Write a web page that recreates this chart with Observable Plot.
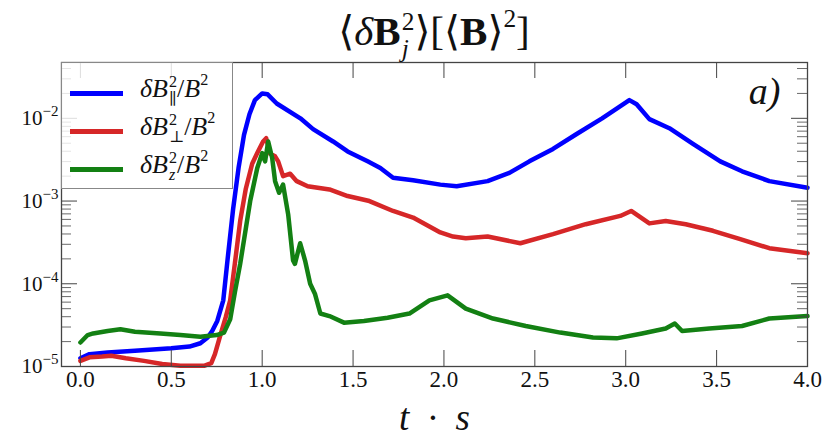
<!DOCTYPE html>
<html>
<head>
<meta charset="utf-8">
<script src="https://cdn.jsdelivr.net/npm/d3@7"></script>
<script src="https://cdn.jsdelivr.net/npm/@observablehq/plot@0.6"></script>
<style>
  body { margin: 0; background: #fff; }
  #wrap { position: relative; width: 831px; height: 446px; font-family: "Liberation Serif", "DejaVu Serif", serif; color: #111; }
  #wrap svg { position: absolute; left: 0; top: 0; }
  #title { position: absolute; left: 0; width: 868px; top: 8px; text-align: center; font-size: 41px; line-height: 1.15; white-space: nowrap; }
  .ss { display: inline-block; vertical-align: -0.45em; font-size: 0.62em; line-height: 1.05; text-align: left; margin-left: 1px; }
  .ss > span { display: block; }
  .sup { font-size: 0.62em; vertical-align: 0.7em; line-height: 0; }
  #legend { position: absolute; left: 61px; top: 62px; width: 172px; height: 127px; border: 1px solid #888; background: rgba(255,255,255,0.82); box-sizing: border-box; }
  .sw { position: absolute; left: 8px; width: 53px; height: 5px; }
  .lab { position: absolute; left: 78px; font-size: 26px; font-style: italic; line-height: 1; white-space: nowrap; }
  .lab .up { font-style: normal; }
</style>
</head>
<body>
<div id="wrap">
  <div id="title">⟨<i>δ</i><b>B</b><span class="ss"><span>2</span><span><i>j</i></span></span>⟩[⟨<b>B</b>⟩<span class="sup">2</span>]</div>
</div>
<script>
// ---- data ----
const seriesNames = ["par", "perp", "z"];
const seriesColors = ["#0000ff", "#d62728", "#138013"];

const tPar = [0, 0.05, 0.15, 0.3, 0.5, 0.6, 0.66, 0.70, 0.725, 0.753, 0.786, 0.81, 0.84, 0.87, 0.90, 0.93, 0.96, 1.0, 1.03, 1.08, 1.21, 1.28, 1.39, 1.47, 1.58, 1.65, 1.72, 1.83, 1.98, 2.07, 2.24, 2.36, 2.47, 2.60, 2.73, 2.87, 3.02, 3.06, 3.13, 3.24, 3.37, 3.52, 3.64, 3.79, 4.0];
const vPar = [1.26e-5, 1.41e-5, 1.48e-5, 1.55e-5, 1.66e-5, 1.74e-5, 1.91e-5, 2.24e-5, 2.69e-5, 3.55e-5, 6.31e-5, 2.0e-4, 7.94e-4, 2.51e-3, 6.31e-3, 1.12e-2, 1.66e-2, 2.0e-2, 1.95e-2, 1.51e-2, 1.0e-2, 7.41e-3, 5.25e-3, 3.98e-3, 3.02e-3, 2.51e-3, 1.91e-3, 1.78e-3, 1.58e-3, 1.51e-3, 1.74e-3, 2.19e-3, 3.02e-3, 4.27e-3, 6.46e-3, 1.0e-2, 1.66e-2, 1.48e-2, 9.77e-3, 7.59e-3, 4.90e-3, 3.02e-3, 2.29e-3, 1.74e-3, 1.45e-3];

const tPerp = [0, 0.05, 0.12, 0.17, 0.25, 0.35, 0.45, 0.55, 0.68, 0.72, 0.74, 0.77, 0.80, 0.824, 0.85, 0.879, 0.91, 0.945, 0.973, 1.005, 1.022, 1.044, 1.071, 1.088, 1.115, 1.154, 1.19, 1.25, 1.37, 1.47, 1.59, 1.72, 1.83, 1.98, 2.05, 2.12, 2.24, 2.42, 2.60, 2.78, 2.97, 3.03, 3.07, 3.13, 3.22, 3.33, 3.48, 3.63, 3.79, 4.0];
const vPerp = [1.17e-5, 1.29e-5, 1.32e-5, 1.35e-5, 1.26e-5, 1.17e-5, 1.07e-5, 1.02e-5, 1.02e-5, 1.10e-5, 1.41e-5, 2.40e-5, 3.98e-5, 6.31e-5, 1.78e-4, 5.75e-4, 1.41e-3, 2.82e-3, 3.80e-3, 5.25e-3, 5.75e-3, 3.72e-3, 3.47e-3, 3.02e-3, 2.0e-3, 2.14e-3, 1.74e-3, 1.51e-3, 1.38e-3, 1.15e-3, 1.0e-3, 7.59e-4, 6.31e-4, 4.17e-4, 3.72e-4, 3.55e-4, 3.72e-4, 3.09e-4, 3.98e-4, 5.25e-4, 6.61e-4, 7.59e-4, 6.61e-4, 5.37e-4, 5.75e-4, 5.25e-4, 4.37e-4, 3.47e-4, 2.69e-4, 2.34e-4];

const tZ = [0, 0.04, 0.07, 0.15, 0.22, 0.30, 0.44, 0.55, 0.66, 0.75, 0.79, 0.824, 0.85, 0.879, 0.934, 0.973, 1.0, 1.016, 1.033, 1.055, 1.071, 1.093, 1.115, 1.143, 1.17, 1.18, 1.209, 1.236, 1.264, 1.29, 1.32, 1.37, 1.45, 1.56, 1.69, 1.81, 1.92, 2.02, 2.12, 2.27, 2.45, 2.64, 2.82, 2.95, 3.09, 3.22, 3.27, 3.31, 3.46, 3.64, 3.79, 4.0];
const vZ = [1.95e-5, 2.40e-5, 2.51e-5, 2.69e-5, 2.82e-5, 2.63e-5, 2.51e-5, 2.40e-5, 2.29e-5, 2.40e-5, 2.57e-5, 3.72e-5, 7.94e-5, 1.74e-4, 1.0e-3, 2.51e-3, 3.80e-3, 3.02e-3, 5.25e-3, 3.31e-3, 1.74e-3, 1.26e-3, 1.58e-3, 6.92e-4, 1.91e-4, 1.74e-4, 3.09e-4, 1.91e-4, 1.0e-4, 7.59e-5, 4.37e-5, 4.07e-5, 3.39e-5, 3.55e-5, 3.89e-5, 4.37e-5, 6.31e-5, 7.24e-5, 5.01e-5, 3.80e-5, 3.09e-5, 2.57e-5, 2.24e-5, 2.19e-5, 2.51e-5, 2.88e-5, 3.31e-5, 2.69e-5, 2.88e-5, 3.09e-5, 3.80e-5, 4.07e-5];

const xTicks = [0, 0.5, 1.0, 1.5, 2.0, 2.5, 3.0, 3.5, 4.0];
const yMajor = [1e-5, 1e-4, 1e-3, 1e-2];
const yMinor = [2e-5, 3e-5, 4e-5, 5e-5, 6e-5, 7e-5, 8e-5, 9e-5,
                2e-4, 3e-4, 4e-4, 5e-4, 6e-4, 7e-4, 8e-4, 9e-4,
                2e-3, 3e-3, 4e-3, 5e-3, 6e-3, 7e-3, 8e-3, 9e-3,
                2e-2, 3e-2, 4e-2];
const xDomain = [-0.104, 4.0];
const yDomain = [1e-5, 0.0473];
const xLabel = "t\u2002·\u2002s";
const panelLabel = "a)";

// ---- build table ----
const rows = [];
[[tPar, vPar], [tPerp, vPerp], [tZ, vZ]].forEach(([ts, vs], i) => {
  ts.forEach((t, j) => rows.push({t, v: vs[j], s: seriesNames[i]}));
});

const W = 831, H = 446, mL = 61, mR = 24, mT = 62, mB = 80;
const fw = W - mL - mR, fh = H - mT - mB;
const tickCol = "#444";

const chart = Plot.plot({
  width: W, height: H,
  marginLeft: mL, marginRight: mR, marginTop: mT, marginBottom: mB,
  style: { fontFamily: "'Liberation Serif', 'DejaVu Serif', serif", color: "#111", background: "transparent" },
  x: { domain: xDomain },
  y: { type: "log", domain: yDomain },
  color: { domain: seriesNames, range: seriesColors },
  marks: [
    Plot.line(rows, { x: "t", y: "v", z: "s", stroke: "s", strokeWidth: 4.5, strokeLinejoin: "round", strokeLinecap: "round", curve: "linear" }),
    // inward ticks
    Plot.tickY(yMajor, { insetRight: fw - 16, stroke: tickCol, strokeWidth: 1 }),
    Plot.tickY(yMajor, { insetLeft: fw - 16, stroke: tickCol, strokeWidth: 1 }),
    Plot.tickY(yMinor, { insetRight: fw - 10, stroke: tickCol, strokeWidth: 0.8 }),
    Plot.tickY(yMinor, { insetLeft: fw - 10, stroke: tickCol, strokeWidth: 0.8 }),
    Plot.tickX(xTicks, { insetTop: fh - 16, stroke: tickCol, strokeWidth: 1 }),
    Plot.tickX(xTicks, { insetBottom: fh - 16, stroke: tickCol, strokeWidth: 1 }),
    Plot.frame({ stroke: tickCol, strokeWidth: 1.3 }),
    Plot.axisX({ ticks: xTicks, tickSize: 0, tickPadding: 4, tickFormat: d => d.toFixed(1), fontSize: 23, label: null }),
    Plot.axisY({ ticks: yMajor, tickSize: 0, tickPadding: 3, tickFormat: d => "10^" + Math.round(Math.log10(d)), fontSize: 21, label: null }),
    Plot.text([xLabel], { frameAnchor: "bottom", lineAnchor: "middle", dy: 52, fontSize: 37, fontStyle: "italic", text: d => d }),
    Plot.text([panelLabel], { frameAnchor: "top-right", lineAnchor: "middle", dx: -27, dy: 29, fontSize: 38, fontStyle: "italic", textAnchor: "end", text: d => d })
  ]
});

// superscript exponents on the y tick labels
d3.select(chart).selectAll("g[aria-label='y-axis tick label'] text").each(function () {
  const s = this.textContent;
  if (!s.includes("^")) return;
  const [base, exp] = s.split("^");
  const el = d3.select(this);
  el.text(base);
  el.append("tspan").attr("dy", -9).attr("font-size", 15).text(exp.replace("-", "\u2212"));
});

const wrap = document.getElementById("wrap");
wrap.insertBefore(chart, wrap.firstChild);

// legend
const legendRows = [
  { color: seriesColors[0], sub: "∥" },
  { color: seriesColors[1], sub: "⊥" },
  { color: seriesColors[2], sub: "<i>z</i>" }
];
const lg = document.createElement("div");
lg.id = "legend";
const rowY = [30, 68, 106];
legendRows.forEach((r, i) => {
  const sw = document.createElement("div");
  sw.className = "sw";
  sw.style.top = (rowY[i] - 2.5) + "px";
  sw.style.background = r.color;
  lg.appendChild(sw);
  const lab = document.createElement("div");
  lab.className = "lab";
  lab.style.top = (rowY[i] - 19) + "px";
  lab.innerHTML = `δB<span class="ss"><span class="up">2</span><span class="up">${r.sub}</span></span><span class="up">/</span>B<span class="sup up">2</span>`;
  lg.appendChild(lab);
});
wrap.appendChild(lg);
</script>
</body>
</html>
